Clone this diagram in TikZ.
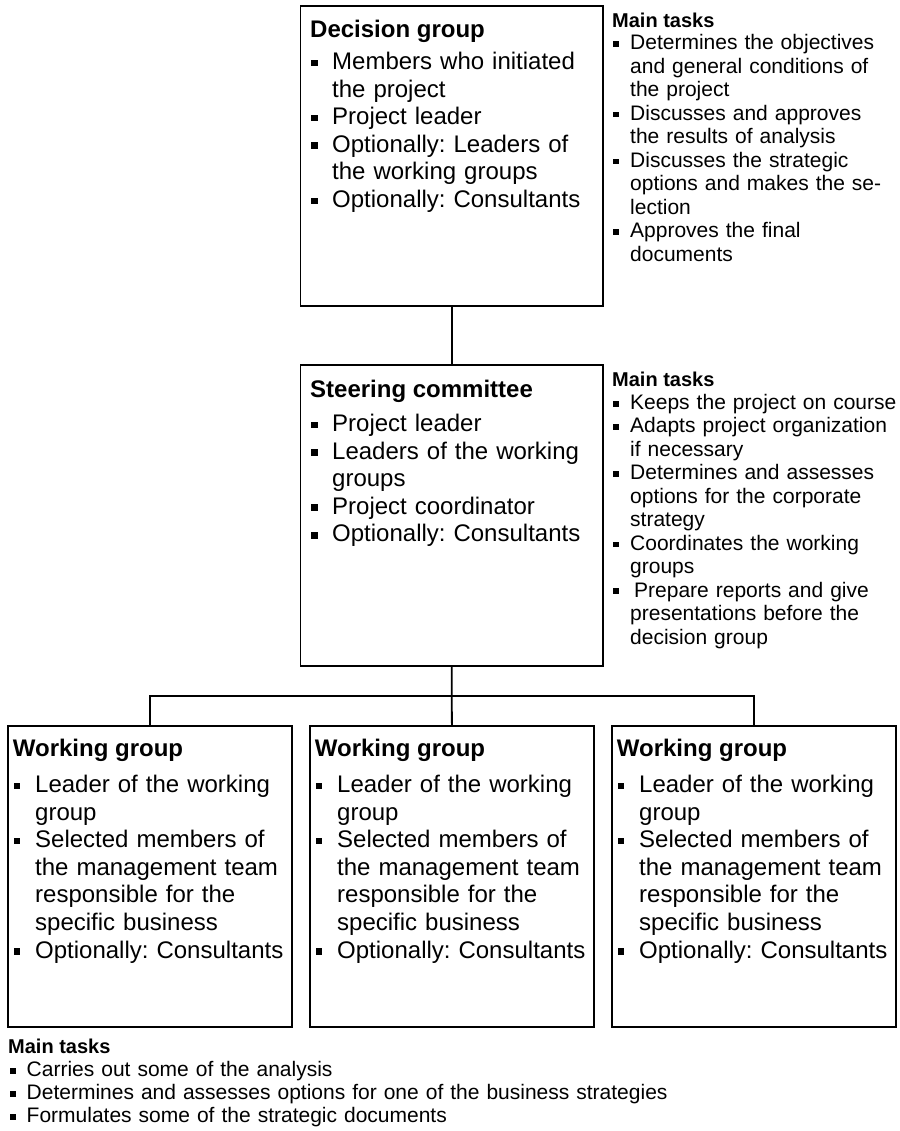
\documentclass[tikz,border=0pt]{standalone}
\usepackage{fontspec}
\setmainfont{Liberation Sans}
% small square bullet followed by a hanging-indented item
\newcommand\sqbullet{\hspace{1pt}\rule[0.14em]{0.27em}{0.27em}}
\newcommand\lstitem[2]{\noindent\hangindent=#1\hangafter=1\makebox[#1][l]{\sqbullet}#2\par}
\begin{document}
\frenchspacing
\begin{tikzpicture}[x=1pt,y=-1pt,
  box/.style={draw=black, line width=1.8pt, rectangle, inner sep=0pt, anchor=north west},
  link/.style={draw=black, line width=1.8pt},
  boxtitle/.style={anchor=base west, inner sep=0pt, font=\bfseries\fontsize{24pt}{27.5pt}\selectfont},
  boxlist/.style={anchor=base west, inner sep=0pt, text width=400pt, font=\fontsize{24pt}{27.6pt}\selectfont},
  taskhead/.style={anchor=base west, inner sep=0pt, font=\bfseries\fontsize{20pt}{24pt}\selectfont},
  tasklist/.style={anchor=base west, inner sep=0pt, text width=400pt, font=\fontsize{21pt}{23.45pt}\selectfont},
]
\useasboundingbox[fill=white] (0,0) rectangle (899,1131);

% decision group
\node[box, minimum width=302.5pt, minimum height=300pt] (dec) at (299.5,5) {};
\node[boxtitle] (dectitle) at (310,37.3) {Decision group};
\node[boxlist] (declist) at (310,69.5) {\raggedright
  \lstitem{22pt}{Members who initiated\newline the project}
  \lstitem{22pt}{Project leader}
  \lstitem{22pt}{Optionally: Leaders of\newline the working groups}
  \lstitem{22pt}{Optionally: Consultants}};
\node[taskhead] (dechead) at (612,27.3) {Main tasks};
\node[tasklist] (dectasks) at (612,50) {\raggedright
  \lstitem{18pt}{Determines the objectives\newline and general conditions of\newline the project}
  \lstitem{18pt}{Discusses and approves\newline the results of analysis}
  \lstitem{18pt}{Discusses the strategic\newline options and makes the se-\newline lection}
  \lstitem{18pt}{Approves the final\newline documents}};

% steering committee
\node[box, minimum width=302.5pt, minimum height=301pt] (steer) at (299.5,364) {};
\node[boxtitle] (steertitle) at (310,397) {Steering committee};
\node[boxlist] (steerlist) at (310,431.5) {\raggedright
  \lstitem{22pt}{Project leader}
  \lstitem{22pt}{Leaders of the working\newline groups}
  \lstitem{22pt}{Project coordinator}
  \lstitem{22pt}{Optionally: Consultants}};
\node[taskhead] (steerhead) at (612,386.7) {Main tasks};
\node[tasklist] (steertasks) at (612,409.5) {\raggedright
  \lstitem{18pt}{Keeps the project on course}
  \lstitem{18pt}{Adapts project organization\newline if necessary}
  \lstitem{18pt}{Determines and assesses\newline options for the corporate\newline strategy}
  \lstitem{18pt}{Coordinates the working\newline groups}
  \lstitem{18pt}{\hspace{4pt}Prepare reports and give\newline\hspace{2pt}presentations before the\newline\hspace{2pt}decision group}};

% working groups
\foreach \i/\dx in {1/0, 2/302, 3/604} {
  \node[box, minimum width=284pt, minimum height=301pt] (w\i) at (7+\dx,725) {};
  \node[boxtitle] (w\i title) at (12.7+\dx,756.5) {Working group};
  \node[boxlist] (w\i list) at (12.7+\dx,792.5) {\raggedright
    \lstitem{22.3pt}{Leader of the working\newline group}
    \lstitem{22.3pt}{Selected members of\newline the management team\newline responsible for the\newline specific business}
    \lstitem{22.3pt}{Optionally: Consultants}};
}

% connectors
\draw[link] (dec.south) -- (steer.north);
\draw[link] (steer.south) -- (w2.north);
\coordinate (bar) at (451,696);
\draw[link] (w1.north) |- (bar) -| (w3.north);

% tasks of the working groups
\node[taskhead] (wghead) at (8,1053.3) {Main tasks};
\node[tasklist, text width=880pt, font=\fontsize{21pt}{23.1pt}\selectfont] (wgtasks) at (9,1076.5) {\raggedright
  \lstitem{17.5pt}{Carries out some of the analysis}
  \lstitem{17.5pt}{Determines and assesses options for one of the business strategies}
  \lstitem{17.5pt}{Formulates some of the strategic documents}};
\end{tikzpicture}
\end{document}
